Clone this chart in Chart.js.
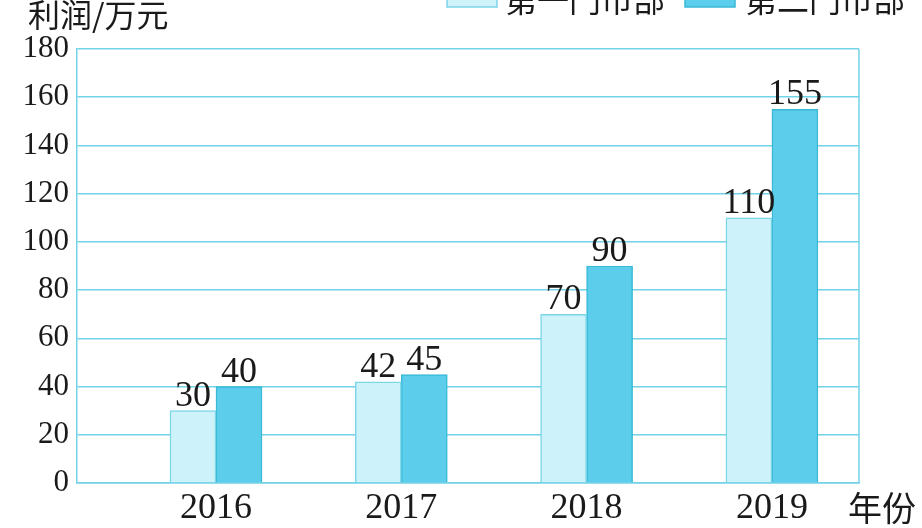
<!DOCTYPE html>
<html>
<head>
<meta charset="utf-8">
<script src="https://cdn.jsdelivr.net/npm/chart.js@4/dist/chart.umd.min.js"></script>
<style>
  body { margin: 0; background: #fff; }
  #wrap { position: relative; width: 922px; height: 528px; }
</style>
</head>
<body>
<div id="wrap"><canvas id="profitChart"></canvas></div>
<script>
// datos del grafico
const years = [2016, 2017, 2018, 2019];
const store1 = [30, 42, 70, 110]; // 第一门市部
const store2 = [40, 45, 90, 155]; // 第二门市部
const seriesNames = ['第一门市部', '第二门市部'];
const yTicks = [0, 20, 40, 60, 80, 100, 120, 140, 160, 180];

const GRID = '#72d2e6';
const SERIF = '"Liberation Serif", "Times New Roman", serif';
const CJK = '"Noto Sans CJK SC", sans-serif';

// numeros encima de las barras + marco derecho + titulos + leyenda
const extras = {
  id: 'extras',
  afterDatasetsDraw(chart) {
    const ctx = chart.ctx;
    const area = chart.chartArea;
    ctx.save();
    // borde derecho
    ctx.strokeStyle = GRID;
    ctx.lineWidth = 1.5;
    ctx.beginPath();
    ctx.moveTo(area.right, area.top);
    ctx.lineTo(area.right, area.bottom);
    ctx.stroke();

    ctx.fillStyle = '#1a1a1a';
    ctx.font = '36px ' + SERIF;
    ctx.textAlign = 'center';
    ctx.textBaseline = 'alphabetic';
    chart.data.datasets.forEach((ds, i) => {
      chart.getDatasetMeta(i).data.forEach((bar, j) => {
        ctx.fillText(String(ds.data[j].y), bar.x, bar.y - 5);
      });
    });

    // titulos de ejes
    ctx.font = '32px ' + CJK;
    ctx.textAlign = 'left';
    ctx.fillText('利润/万元', 28, 27);
    ctx.font = '34px ' + CJK;
    ctx.fillText('年份', 848, 521);

    // leyenda (cortada arriba como en la imagen)
    const items = [
      { x: 447, tx: 505 },
      { x: 685, tx: 745 }
    ];
    chart.data.datasets.forEach((ds, i) => {
      const it = items[i];
      ctx.fillStyle = ds.backgroundColor;
      ctx.strokeStyle = ds.borderColor;
      ctx.lineWidth = 1.5;
      ctx.fillRect(it.x, -20, 50, 27);
      ctx.strokeRect(it.x, -20, 50, 27);
      ctx.fillStyle = '#1a1a1a';
      ctx.font = '32px ' + CJK;
      ctx.fillText(seriesNames[i], it.tx, 12);
    });
    ctx.restore();
  }
};

const ctx = document.getElementById('profitChart').getContext('2d');
new Chart(ctx, {
  type: 'bar',
  data: {
    datasets: [
      {
        label: seriesNames[0],
        data: years.map((y, i) => ({ x: y, y: store1[i] })),
        backgroundColor: '#cdf2f9',
        borderColor: '#7dd5e8',
        borderWidth: 1.5,
        barThickness: 46
      },
      {
        label: seriesNames[1],
        data: years.map((y, i) => ({ x: y, y: store2[i] })),
        backgroundColor: '#5ccdea',
        borderColor: '#38b9d8',
        borderWidth: 1.5,
        barThickness: 46
      }
    ]
  },
  options: {
    responsive: true,
    maintainAspectRatio: false,
    animation: false,
    layout: { padding: { top: 49, right: 63, left: 0, bottom: 0 } },
    plugins: {
      legend: { display: false },
      tooltip: { enabled: false }
    },
    scales: {
      x: {
        type: 'linear',
        offset: false,
        min: 2015.25,
        max: 2019.47,
        afterBuildTicks: s => { s.ticks = years.map(v => ({ value: v })); },
        afterFit: s => { s.height = 45; },
        grid: { display: false, drawTicks: false, offset: false },
        border: { display: true, color: GRID, width: 1.5 },
        ticks: {
          padding: 4,
          color: '#1a1a1a',
          font: { family: SERIF, size: 36 },
          callback: v => String(v)
        }
      },
      y: {
        min: 0,
        max: 180,
        afterBuildTicks: s => { s.ticks = yTicks.map(v => ({ value: v })); },
        afterFit: s => { s.width = 77; },
        grid: { color: GRID, lineWidth: 1.5, drawTicks: false },
        border: { display: true, color: GRID, width: 1.5 },
        ticks: {
          padding: 8,
          color: '#1a1a1a',
          font: { family: SERIF, size: 31 }
        }
      }
    }
  },
  plugins: [extras]
});
</script>
</body>
</html>
